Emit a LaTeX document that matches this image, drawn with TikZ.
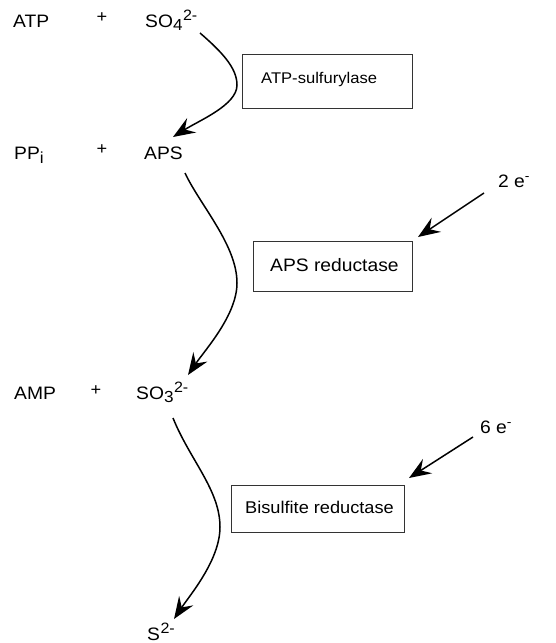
\documentclass[tikz,border=0pt]{standalone}
\usepackage{fontspec}
\setmainfont[FakeStretch=1.07]{Liberation Sans}
\usetikzlibrary{arrows.meta}
\newcommand{\subs}[1]{\raisebox{-3pt}{\fontsize{16}{16}\selectfont #1}}
\newcommand{\sups}[1]{\raisebox{7pt}{\fontsize{15}{15}\selectfont\kern0.5pt #1}}
\begin{document}
\begin{tikzpicture}[x=1pt,y=-1pt,
  chem/.style={inner sep=0pt,anchor=base west,font=\fontsize{18}{20}\selectfont},
  plus/.style={inner sep=0pt,font=\fontsize{17}{17}\selectfont},
  enz/.style={draw=black!80,line width=0.8pt,inner sep=0pt,anchor=north west},
  arr/.style={line width=1.5pt,-{Stealth[length=22pt,width=17pt,inset=8pt]}}]
\useasboundingbox (0,0) rectangle (555,643);
% row 1
\node[chem] (atp) at (13,27) {ATP};
\node[plus] (p1) at (102,18) {+};
\node[chem] (so4) at (145,27) {SO\subs{4}\sups{2-}};
% row 2
\node[chem] (ppi) at (14,159) {PP\raisebox{-4pt}{\fontsize{16}{16}\selectfont i}};
\node[plus] (p2) at (102,150) {+};
\node[chem] (aps) at (144,159) {APS};
% row 3
\node[chem] (amp) at (14,399) {AMP};
\node[plus] (p3) at (96,391) {+};
\node[chem] (so3) at (136,399) {SO\subs{3}\sups{2-}};
% row 4
\node[chem] (s2) at (147,640) {S\sups{2-}};
% electrons
\node[chem] (e2) at (498,187) {2 e\raisebox{7pt}{\fontsize{13}{13}\selectfont -}};
\node[chem] (e6) at (480,433) {6 e\raisebox{7pt}{\fontsize{13}{13}\selectfont -}};
% enzyme boxes
\node[enz,minimum width=170pt,minimum height=54pt] (b1) at (242,54) {};
\node[chem,font=\fontsize{15.5}{17}\selectfont] (t1) at (261,83) {ATP-sulfurylase};
\node[enz,minimum width=159pt,minimum height=50pt] (b2) at (253,241) {};
\node[chem,font=\fontsize{18}{20}\selectfont] (t2) at (270,271) {APS reductase};
\node[enz,minimum width=173pt,minimum height=47pt] (b3) at (231,485) {};
\node[chem,font=\fontsize{17}{20}\selectfont] (t3) at (245,513) {Bisulfite reductase};
% connector end points
\coordinate (so4out) at (200,33);
\coordinate (apsin) at (173,137);
\coordinate (apsout) at (185,173);
\coordinate (so3in) at (188,375);
\coordinate (so3out) at (173,418);
\coordinate (s2in) at (174,619);
\coordinate (e2out) at (484,193);
\coordinate (b2in) at (418,237);
\coordinate (e6out) at (473,437);
\coordinate (b3in) at (409,478);
% curves
\draw[arr] (so4out) .. controls (222,52) and (237,68) .. (237,85)
  .. controls (237,105) and (200,120) .. (apsin);
\draw[arr] (apsout) .. controls (200,205) and (237,245) .. (237,283)
  .. controls (237,315) and (205,350) .. (so3in);
\draw[arr] (so3out) .. controls (190,460) and (220,490) .. (220,527)
  .. controls (220,560) and (190,595) .. (s2in);
\draw[arr] (e2out) -- (b2in);
\draw[arr] (e6out) -- (b3in);
\end{tikzpicture}
\end{document}
